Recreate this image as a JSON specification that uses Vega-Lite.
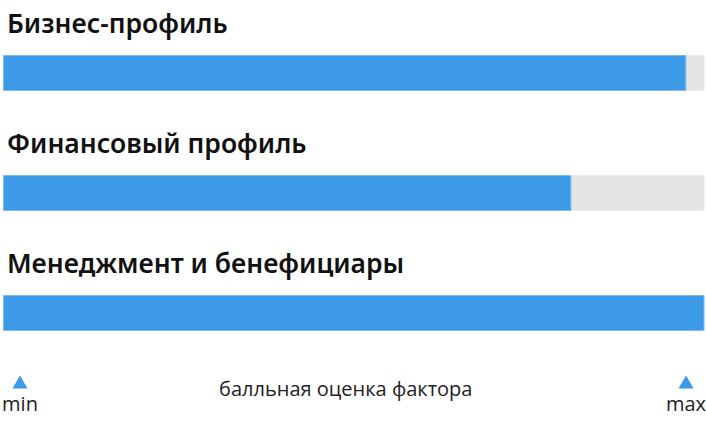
{
  "$schema": "https://vega.github.io/schema/vega-lite/v6.json",
  "autosize": {"type": "none"},
  "width": 700.5,
  "height": 422,
  "padding": {"left": 3.5, "right": 2, "top": 0, "bottom": 0},
  "background": "#ffffff",
  "config": {"view": {"stroke": null}},
  "datasets": {
    "factors": [
      {"factor": "Бизнес-профиль", "score": 97.4, "max": 100},
      {"factor": "Финансовый профиль", "score": 81.0, "max": 100},
      {"factor": "Менеджмент и бенефициары", "score": 100, "max": 100}
    ],
    "ends": [
      {"factor": "шкала", "label": "min", "pos": 0},
      {"factor": "шкала", "label": "max", "pos": 100}
    ],
    "caption": [
      {"factor": "шкала", "label": "балльная оценка фактора", "pos": 50}
    ]
  },
  "layer": [
    {
      "data": {"name": "factors"},
      "mark": {"type": "bar", "height": 35, "yOffset": 13, "fill": "#e4e4e4", "stroke": "#ececec", "strokeWidth": 1},
      "encoding": {
        "y": {
          "field": "factor",
          "type": "nominal",
          "axis": null,
          "sort": null,
          "scale": {
            "domain": ["Бизнес-профиль", "Финансовый профиль", "Менеджмент и бенефициары", "шкала"],
            "range": [0, 480],
            "paddingInner": 0,
            "paddingOuter": 0
          }
        },
        "x": {"field": "max", "type": "quantitative", "scale": {"domain": [0, 100], "nice": false}, "axis": null}
      }
    },
    {
      "data": {"name": "factors"},
      "mark": {"type": "bar", "height": 35, "yOffset": 13, "fill": "#3d9ae9", "stroke": "#7cb9f0", "strokeWidth": 1},
      "encoding": {
        "y": {"field": "factor", "type": "nominal", "sort": null},
        "x": {"field": "score", "type": "quantitative"}
      }
    },
    {
      "data": {"name": "factors"},
      "mark": {"type": "text", "align": "left", "baseline": "alphabetic", "yOffset": -27, "dx": 3.5, "font": "Noto Sans", "fontWeight": 600, "fontSize": 26.5, "fill": "#111111"},
      "encoding": {
        "y": {"field": "factor", "type": "nominal", "sort": null},
        "x": {"datum": 0, "type": "quantitative"},
        "text": {"field": "factor", "type": "nominal"}
      }
    },
    {
      "data": {"name": "ends"},
      "transform": [{"filter": "datum.pos === 0"}],
      "mark": {"type": "point", "shape": "triangle-up", "filled": true, "size": 230, "fill": "#3d9ae9", "opacity": 1, "yOffset": -38, "xOffset": 16.5},
      "encoding": {
        "y": {"field": "factor", "type": "nominal", "sort": null},
        "x": {"field": "pos", "type": "quantitative"}
      }
    },
    {
      "data": {"name": "ends"},
      "transform": [{"filter": "datum.pos === 100"}],
      "mark": {"type": "point", "shape": "triangle-up", "filled": true, "size": 230, "fill": "#3d9ae9", "opacity": 1, "yOffset": -38, "xOffset": -18},
      "encoding": {
        "y": {"field": "factor", "type": "nominal", "sort": null},
        "x": {"field": "pos", "type": "quantitative"}
      }
    },
    {
      "data": {"name": "ends"},
      "transform": [{"filter": "datum.pos === 0"}],
      "mark": {"type": "text", "align": "center", "baseline": "alphabetic", "yOffset": -9, "xOffset": 16.5, "font": "Open Sans", "fontSize": 20, "fill": "#222222"},
      "encoding": {
        "y": {"field": "factor", "type": "nominal", "sort": null},
        "x": {"field": "pos", "type": "quantitative"},
        "text": {"field": "label", "type": "nominal"}
      }
    },
    {
      "data": {"name": "ends"},
      "transform": [{"filter": "datum.pos === 100"}],
      "mark": {"type": "text", "align": "center", "baseline": "alphabetic", "yOffset": -9, "xOffset": -18, "font": "Open Sans", "fontSize": 20, "fill": "#222222"},
      "encoding": {
        "y": {"field": "factor", "type": "nominal", "sort": null},
        "x": {"field": "pos", "type": "quantitative"},
        "text": {"field": "label", "type": "nominal"}
      }
    },
    {
      "data": {"name": "caption"},
      "mark": {"type": "text", "align": "center", "baseline": "alphabetic", "yOffset": -24, "xOffset": -8, "font": "Open Sans", "fontSize": 20, "fill": "#222222"},
      "encoding": {
        "y": {"field": "factor", "type": "nominal", "sort": null},
        "x": {"field": "pos", "type": "quantitative"},
        "text": {"field": "label", "type": "nominal"}
      }
    }
  ]
}
